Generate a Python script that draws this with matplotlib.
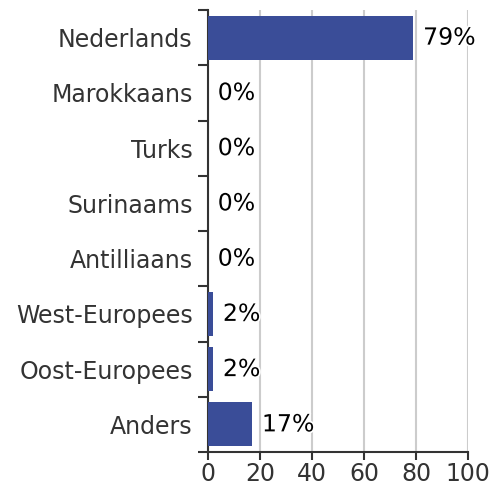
import matplotlib
matplotlib.use('Agg')
import matplotlib.pyplot as plt
import matplotlib.patheffects as pe
import numpy as np

categories = ['Nederlands', 'Marokkaans', 'Turks', 'Surinaams', 'Antilliaans',
              'West-Europees', 'Oost-Europees', 'Anders']
values = [79, 0, 0, 0, 0, 2, 2, 17]
xticks = [0, 20, 40, 60, 80, 100]

fig = plt.figure(figsize=(4.93, 4.84), dpi=100)
ax = fig.add_axes([208/493, 32/484, 260/493, 442/484])

y = np.arange(len(categories))
ax.barh(y, values, height=0.8, color='#3a4d98', linewidth=0, zorder=3)
ax.set_ylim(len(categories) - 0.5, -0.5)
ax.set_xlim(0, 100)

# labels between the boundary ticks
ax.set_yticks(np.arange(len(categories) + 1) - 0.5)
ax.set_yticklabels([])
ax.set_yticks(y, minor=True)
ax.set_yticklabels(categories, minor=True, fontsize=17, color='#333333')
ax.tick_params(axis='y', which='minor', length=0, pad=11)
ax.tick_params(axis='y', which='major', length=7, width=1.5, color='#333333')

ax.set_xticks(xticks)
ax.set_xticklabels([str(t) for t in xticks], fontsize=17, color='#333333')
ax.tick_params(axis='x', length=6, width=1.5, color='#333333', pad=1)

ax.grid(axis='x', color='#cccccc', linewidth=1.5, zorder=0)
ax.set_axisbelow(True)
for s in ['top', 'right']:
    ax.spines[s].set_visible(False)
for s in ['left', 'bottom']:
    ax.spines[s].set_color('#333333')
    ax.spines[s].set_linewidth(1.5)

for yi, v in zip(y, values):
    ax.annotate(f'{v}%', (v, yi), xytext=(7, 0), textcoords='offset points',
                va='center', ha='left', fontsize=17, color='black', clip_on=False,
                path_effects=[pe.withStroke(linewidth=2.5, foreground='white')])

fig.savefig('out.png', dpi=100)
